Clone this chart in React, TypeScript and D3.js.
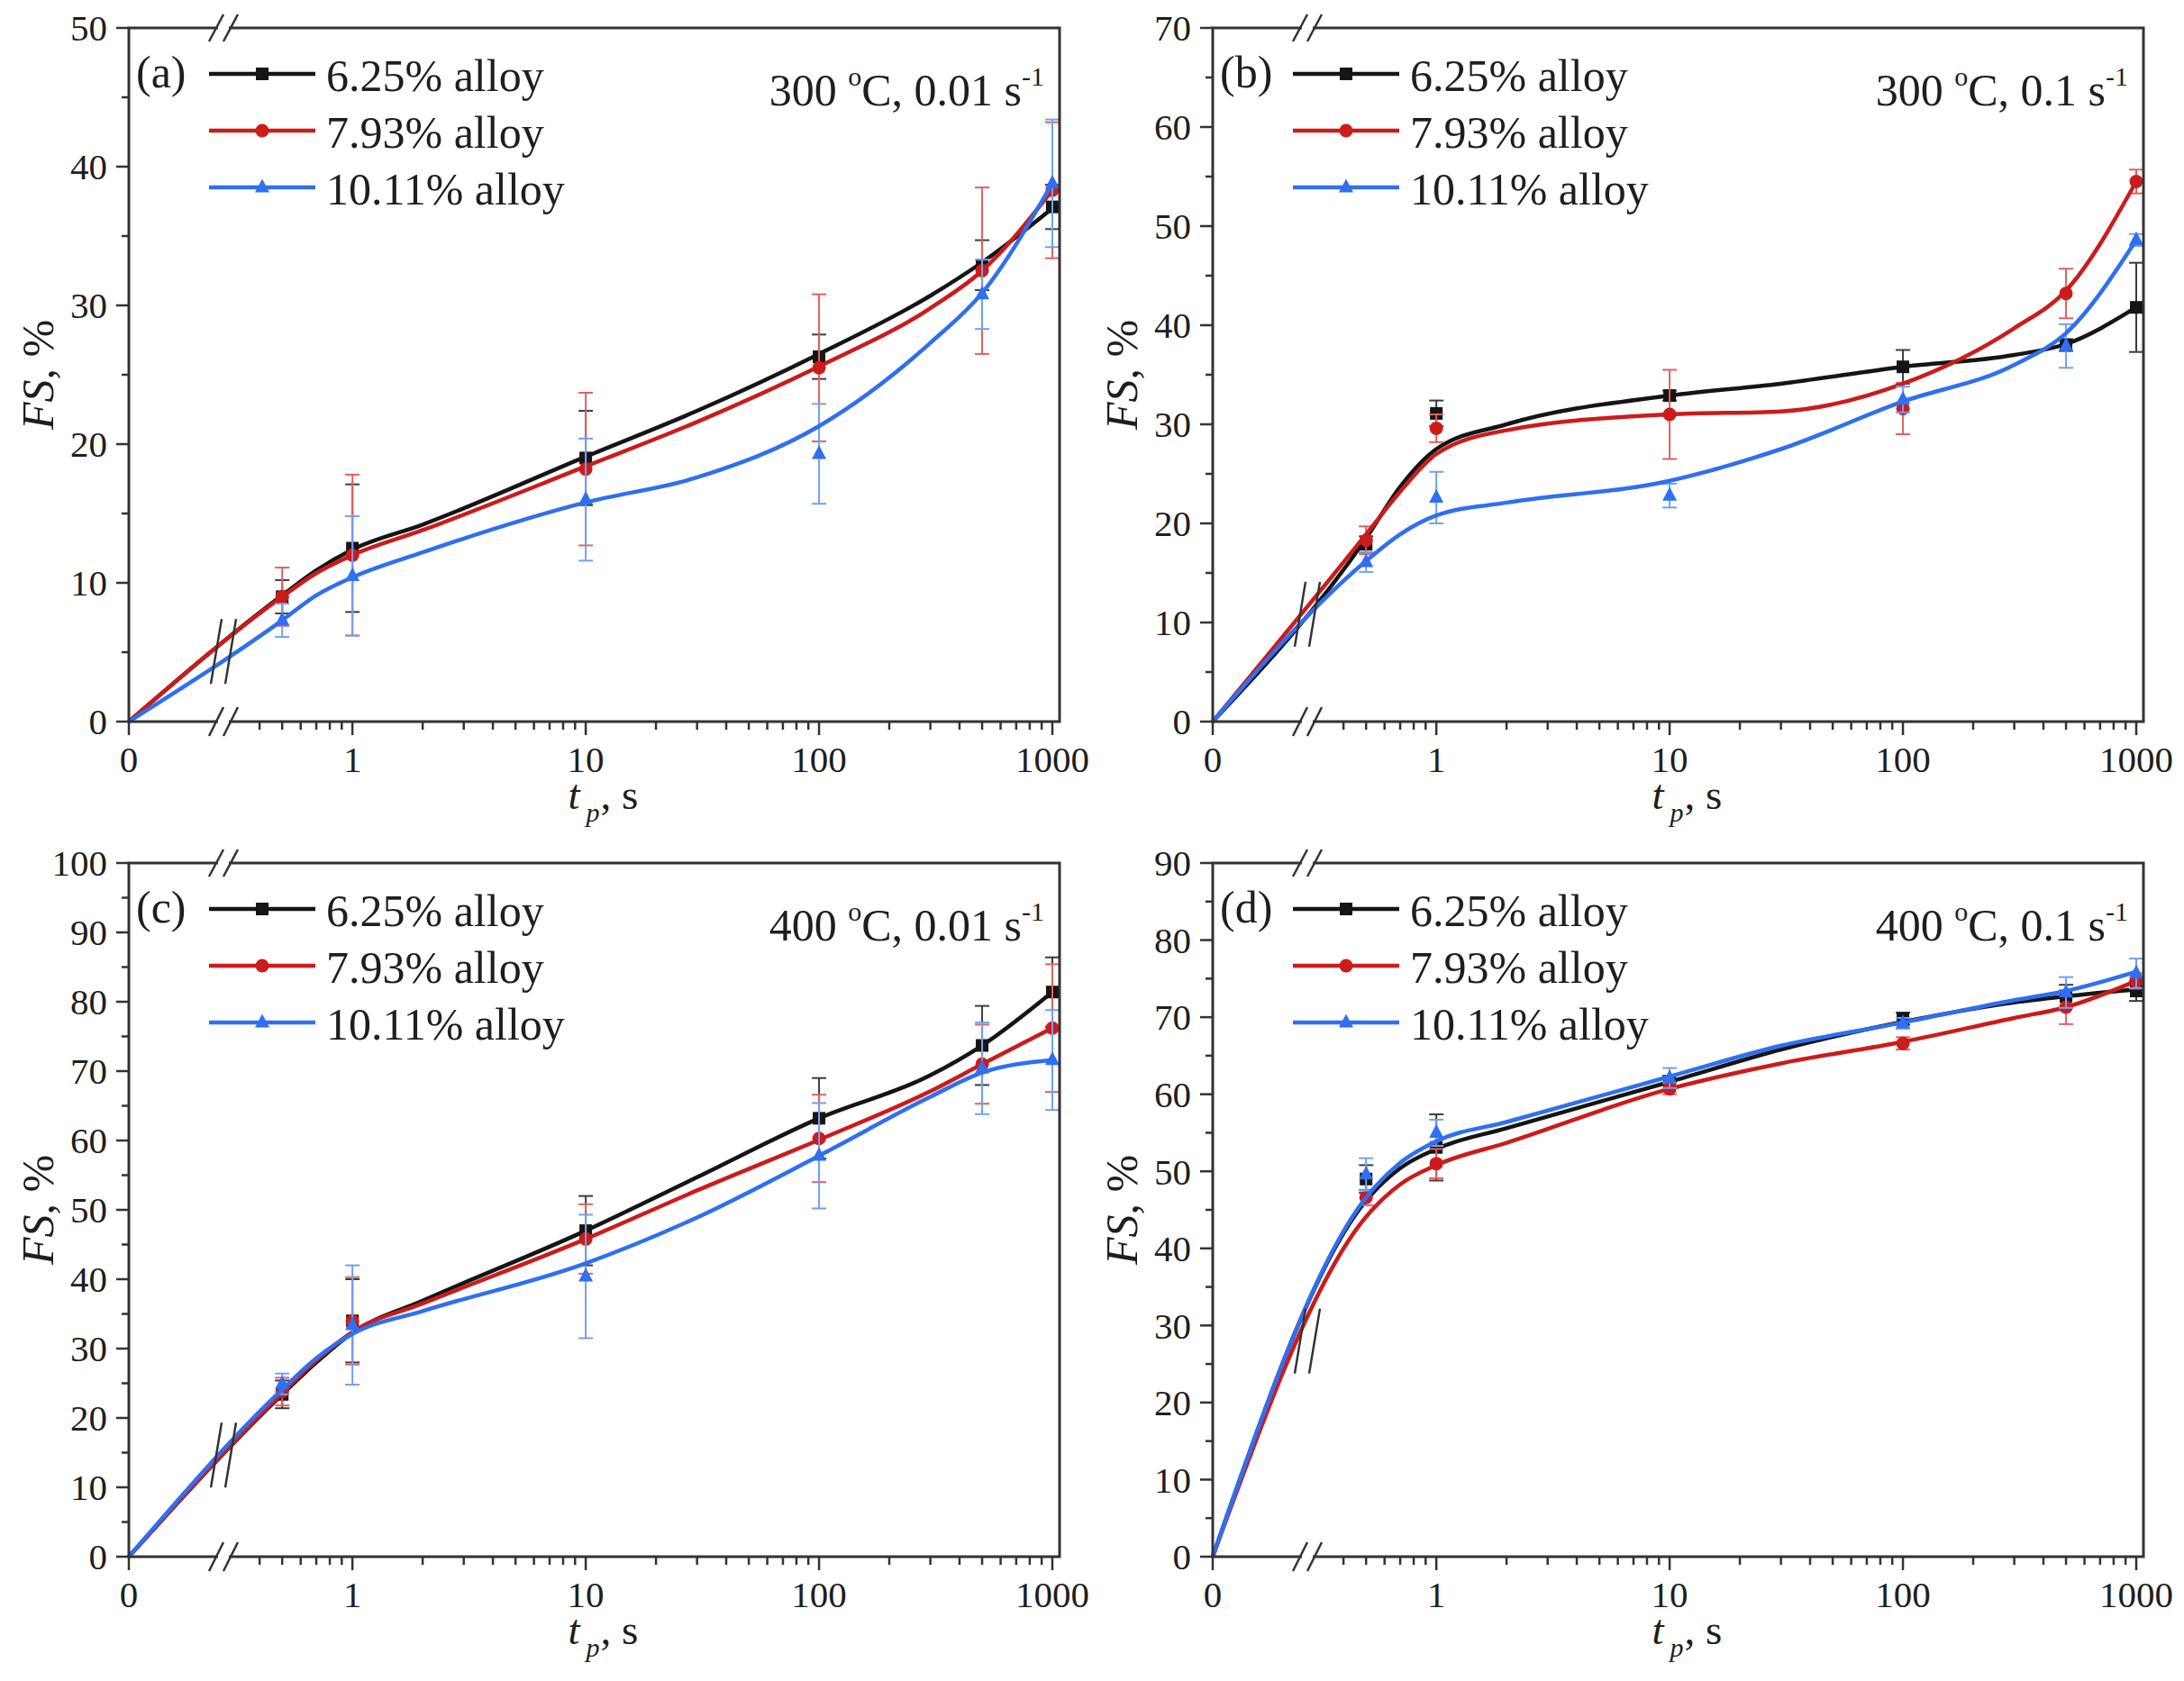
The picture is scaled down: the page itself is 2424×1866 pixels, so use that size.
import React from "react";
import * as d3 from "d3";

// measurement times (s) and the times the smoothed curves were read at
const times = [0.5, 1, 10, 100, 500, 1000];
const curveTimes = [0, 0.5, 0.7, 1, 2, 10, 30, 100, 300, 500, 1000];

const seriesNames = ["6.25% alloy", "7.93% alloy", "10.11% alloy"];
const seriesColors = ["#151515", "#cc1b1b", "#2f6ff0"];
const errColors = ["#3c3c3c", "#e2605f", "#72a0f2"];

const xTickValues = [0, 1, 10, 100, 1000];
const xTickLabels = ["0", "1", "10", "100", "1000"];

// (a) 300 °C, 0.01 s-1
const aBlack = [9.0, 12.5, 19.0, 26.3, 32.9, 37.1];
const aBlackErr = [1.2, 4.6, 3.4, 1.6, 1.8, 1.6];
const aBlackFit = [0, 9.1, 10.9, 12.4, 14.2, 19.1, 22.4, 26.5, 30.7, 33.1, 37.0];
const aRed = [9.0, 12.0, 18.2, 25.5, 32.5, 38.3];
const aRedErr = [2.1, 5.8, 5.5, 5.3, 6.0, 4.9];
const aRedFit = [0, 9.0, 10.7, 12.0, 13.8, 18.4, 21.6, 25.6, 29.8, 32.5, 38.3];
const aBlue = [7.3, 10.5, 16.0, 19.3, 30.8, 38.8];
const aBlueErr = [1.2, 4.3, 4.4, 3.6, 2.5, 4.6];
const aBlueFit = [0, 7.3, 9.1, 10.4, 12.2, 15.8, 17.6, 21.3, 27.3, 30.9, 38.8];

// (b) 300 °C, 0.1 s-1
const bBlack = [17.9, 31.1, 32.9, 35.8, 38.0, 41.8];
const bBlackErr = [0.8, 1.3, 0.5, 1.7, 0.6, 4.5];
const bBlackFit = [0, 18.5, 23.7, 27.5, 30.0, 32.9, 34.1, 35.8, 37.0, 38.1, 41.8];
const bRed = [18.3, 29.6, 31.0, 31.6, 43.2, 54.5];
const bRedErr = [1.4, 1.4, 4.5, 2.6, 2.5, 1.2];
const bRedFit = [0, 18.9, 23.2, 27.0, 29.4, 31.0, 31.3, 34.1, 39.7, 43.5, 54.5];
const bBlue = [16.1, 22.6, 22.8, 32.5, 37.9, 48.6];
const bBlueErr = [1.0, 2.6, 1.2, 1.3, 2.2, 0.6];
const bBlueFit = [0, 16.2, 18.9, 20.8, 22.1, 24.3, 27.5, 32.3, 36.0, 39.2, 48.6];

// (c) 400 °C, 0.01 s-1
const cBlack = [23.4, 34.0, 47.0, 63.2, 73.7, 81.4];
const cBlackErr = [2.0, 6.0, 5.0, 5.8, 5.7, 5.0];
const cBlackFit = [0, 23.4, 28.0, 32.3, 36.9, 47.0, 54.7, 63.2, 69.4, 73.7, 81.4];
const cRed = [23.8, 34.0, 45.8, 60.3, 71.0, 76.2];
const cRedErr = [2.0, 6.3, 5.0, 6.3, 5.7, 9.2];
const cRedFit = [0, 23.6, 28.3, 32.4, 36.5, 45.8, 52.8, 60.1, 67.1, 71.0, 76.2];
const cBlue = [24.9, 33.4, 40.4, 57.8, 70.4, 71.6];
const cBlueErr = [1.5, 8.6, 8.9, 7.6, 6.6, 7.2];
const cBlueFit = [0, 24.1, 28.6, 32.1, 35.4, 42.3, 48.9, 57.8, 66.3, 69.8, 71.6];

// (d) 400 °C, 0.1 s-1
const dBlack = [49.0, 53.1, 61.6, 69.8, 72.7, 73.4];
const dBlackErr = [1.8, 4.3, 0.8, 0.8, 1.5, 1.3];
const dBlackFit = [0, 46.2, 50.4, 52.9, 55.6, 61.6, 65.8, 69.4, 71.9, 72.7, 73.6];
const dRed = [46.6, 51.0, 60.7, 66.6, 71.3, 74.7];
const dRedErr = [1.0, 1.9, 0.7, 0.8, 2.2, 1.0];
const dRedFit = [0, 44.1, 48.3, 50.8, 53.7, 60.7, 64.0, 66.8, 69.9, 71.3, 74.7];
const dBlue = [49.6, 55.0, 62.1, 69.2, 73.2, 75.7];
const dBlueErr = [2.1, 1.7, 1.3, 0.7, 2.0, 1.9];
const dBlueFit = [0, 46.6, 51.1, 53.9, 56.4, 62.3, 66.3, 69.3, 72.2, 73.4, 75.9];

const panels = [
  { tag: "(a)", temp: "300", rate: "0.01", yMax: 50, left: 143, top: 31,
    values: [aBlack, aRed, aBlue], errs: [aBlackErr, aRedErr, aBlueErr], fits: [aBlackFit, aRedFit, aBlueFit] },
  { tag: "(b)", temp: "300", rate: "0.1", yMax: 70, left: 1346, top: 31,
    values: [bBlack, bRed, bBlue], errs: [bBlackErr, bRedErr, bBlueErr], fits: [bBlackFit, bRedFit, bBlueFit] },
  { tag: "(c)", temp: "400", rate: "0.01", yMax: 100, left: 143, top: 958,
    values: [cBlack, cRed, cBlue], errs: [cBlackErr, cRedErr, cBlueErr], fits: [cBlackFit, cRedFit, cBlueFit] },
  { tag: "(d)", temp: "400", rate: "0.1", yMax: 90, left: 1346, top: 958,
    values: [dBlack, dRed, dBlue], errs: [dBlackErr, dRedErr, dBlueErr], fits: [dBlackFit, dRedFit, dBlueFit] },
];

const W = 1033;
const H = 770;
const T_BREAK = 0.28;
const BREAK_X = 105;
const FONT = "'Liberation Serif', 'Times New Roman', serif";
const AXIS = "#333";
const TEXT = "#1e1e1e";

// broken x axis: linear from 0 to the break, log after it
const xLin = d3.scaleLinear().domain([0, T_BREAK]).range([0, BREAK_X]);
const xLog = d3.scaleLog().domain([T_BREAK, 1000]).range([BREAK_X, 1025]);
const x = (t: number) => (t <= T_BREAK ? xLin(t) : xLog(t));

const minorX = xLog.ticks().filter((t) => t >= 0.35 && Math.abs(Math.log10(t) % 1) > 1e-6);

function Marker({ kind, cx, cy, color }: { kind: number; cx: number; cy: number; color: string }) {
  if (kind === 0) return <rect x={cx - 7} y={cy - 7} width={14} height={14} fill={color} />;
  if (kind === 1) return <circle cx={cx} cy={cy} r={7.5} fill={color} />;
  const s = 16;
  return (
    <path
      d={`M${cx},${cy - s * 0.6} L${cx + s / 2},${cy + s * 0.35} L${cx - s / 2},${cy + s * 0.35} Z`}
      fill={color}
    />
  );
}

function Slashes({ cx, cy, h, w }: { cx: number; cy: number; h: number; w: number }) {
  return (
    <g stroke={AXIS} strokeWidth={2.5}>
      <rect x={cx - 6} y={cy - h / 2} width={12} height={h} fill="white" stroke="none" />
      <line x1={cx - 8 - w / 2} y1={cy + h / 2} x2={cx - 8 + w / 2} y2={cy - h / 2} />
      <line x1={cx + 8 - w / 2} y1={cy + h / 2} x2={cx + 8 + w / 2} y2={cy - h / 2} />
    </g>
  );
}

function Panel({ p }: { p: (typeof panels)[number] }) {
  const y = d3.scaleLinear().domain([0, p.yMax]).range([H, 0]);
  const majorY = d3.range(0, p.yMax + 1, 10);
  const minorY = d3.range(5, p.yMax, 10);
  const line = d3
    .line<number>()
    .x((_, i) => x(curveTimes[i]))
    .y((v) => y(v))
    .curve(d3.curveMonotoneX);

  // where the curves cross the break: straight segment origin -> first sample
  const breakYs = p.fits.map((f) => {
    const x0 = x(curveTimes[0]), x1 = x(curveTimes[1]);
    const k = (BREAK_X - x0) / (x1 - x0);
    return y(f[0]) + (y(f[1]) - y(f[0])) * k;
  });
  const breakMid = (d3.min(breakYs)! + d3.max(breakYs)!) / 2;

  return (
    <g transform={`translate(${p.left},${p.top})`} fontFamily={FONT}>
      {/* series */}
      {p.values.map((vals, si) => (
        <g key={si}>
          {vals.map((v, i) => {
            const cx = x(times[i]);
            const e = p.errs[si][i];
            return (
              <g key={i} stroke={errColors[si]} strokeWidth={2}>
                <line x1={cx} x2={cx} y1={y(v + e)} y2={y(v - e)} />
                <line x1={cx - 8} x2={cx + 8} y1={y(v + e)} y2={y(v + e)} />
                <line x1={cx - 8} x2={cx + 8} y1={y(v - e)} y2={y(v - e)} />
              </g>
            );
          })}
          <path d={line(p.fits[si])!} fill="none" stroke={seriesColors[si]} strokeWidth={4.5} />
          {vals.map((v, i) => (
            <Marker key={i} kind={si} cx={x(times[i])} cy={y(v)} color={seriesColors[si]} />
          ))}
        </g>
      ))}

      {/* break marks on the curves */}
      <g stroke={AXIS} strokeWidth={2.5}>
        <line x1={BREAK_X - 14} y1={breakMid + 36} x2={BREAK_X - 2} y2={breakMid - 36} />
        <line x1={BREAK_X + 2} y1={breakMid + 36} x2={BREAK_X + 14} y2={breakMid - 36} />
      </g>

      {/* frame */}
      <rect x={0} y={0} width={W} height={H} fill="none" stroke={AXIS} strokeWidth={3} />
      <Slashes cx={BREAK_X} cy={0} h={30} w={16} />
      <Slashes cx={BREAK_X} cy={H} h={32} w={16} />

      {/* y axis */}
      {majorY.map((v) => (
        <g key={v}>
          <line x1={-14} x2={0} y1={y(v)} y2={y(v)} stroke={AXIS} strokeWidth={2.5} />
          <text x={-24} y={y(v)} dy="0.35em" textAnchor="end" fontSize={41} fill={TEXT}>
            {v}
          </text>
        </g>
      ))}
      {minorY.map((v) => (
        <line key={v} x1={-8} x2={0} y1={y(v)} y2={y(v)} stroke={AXIS} strokeWidth={2.5} />
      ))}

      {/* x axis */}
      {xTickValues.map((t, i) => (
        <g key={t}>
          <line x1={x(t)} x2={x(t)} y1={H} y2={H + 15} stroke={AXIS} strokeWidth={2.5} />
          <text x={x(t)} y={H + 56} textAnchor="middle" fontSize={41} fill={TEXT}>
            {xTickLabels[i]}
          </text>
        </g>
      ))}
      {minorX.map((t) => (
        <line key={t} x1={x(t)} x2={x(t)} y1={H} y2={H + 9} stroke={AXIS} strokeWidth={2.5} />
      ))}

      {/* axis titles */}
      <text x={W / 2 - 16} y={H + 97} textAnchor="end" fontSize={47} fontStyle="italic" fill={TEXT}>
        t
      </text>
      <text x={W / 2 - 9} y={H + 111} textAnchor="start" fontSize={30} fontStyle="italic" fill={TEXT}>
        p
      </text>
      <text x={W / 2 + 7} y={H + 97} textAnchor="start" fontSize={47} fill={TEXT}>
        , s
      </text>
      <text transform={`translate(-84,${H / 2}) rotate(-90)`} textAnchor="middle" fontSize={50} fill={TEXT}>
        <tspan fontStyle="italic">FS</tspan>, %
      </text>

      {/* panel tag + legend */}
      <text x={8} y={66} fontSize={50} fill={TEXT}>{p.tag}</text>
      {seriesNames.map((name, si) => {
        const ly = 51 + si * 63;
        return (
          <g key={name}>
            <line x1={89} x2={207} y1={ly} y2={ly} stroke={seriesColors[si]} strokeWidth={4.5} />
            <Marker kind={si} cx={148} cy={ly} color={seriesColors[si]} />
            <text x={219} y={ly + 19} fontSize={50} fill={TEXT}>{name}</text>
          </g>
        );
      })}

      {/* condition */}
      <text x={1016} y={86} textAnchor="end" fontSize={50} fill={TEXT}>
        {p.temp + " "}
        <tspan fontSize={30} dy={-22}>o</tspan>
        <tspan dy={22}>{`C, ${p.rate} s`}</tspan>
        <tspan fontSize={30} dy={-22}>-1</tspan>
      </text>
    </g>
  );
}

export default function App() {
  return (
    <svg
      width={2424}
      height={1866}
      viewBox="0 0 2424 1866"
      style={{ position: "absolute", left: 0, top: 0, background: "white" }}
    >
      {panels.map((p) => (
        <Panel key={p.tag} p={p} />
      ))}
    </svg>
  );
}
